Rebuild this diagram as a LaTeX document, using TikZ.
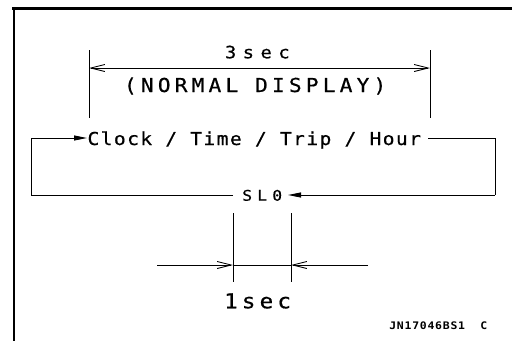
\documentclass[tikz,border=0pt]{standalone}
\usepackage{fontspec}
\setmainfont{DejaVu Sans Mono}
\newfontfamily\cadfont[FakeStretch=1.1,FakeBold=0.6]{DejaVu Sans Mono}
\newfontfamily\cadbold[FakeStretch=1.1]{DejaVu Sans Mono Bold}
\usetikzlibrary{arrows.meta}
\newlength\gapw
\newcommand\gap{\kern\gapw}
\tikzset{
  txt/.style={inner sep=0pt, outer sep=0pt, anchor=base west},
  frameline/.style={line width=2.6pt},
  thin/.style={line width=0.9pt},
  dimarrow/.style={thin, {Straight Barb[length=14pt,width=7pt,line width=0.9pt]}-{Straight Barb[length=14pt,width=7pt,line width=0.9pt]}},
  dimin/.style={thin, -{Straight Barb[length=14pt,width=7pt,line width=0.9pt]}},
  flow/.style={thin, -{Triangle[length=13pt,width=5pt]}},
}
\begin{document}
\begin{tikzpicture}[x=1pt,y=-1pt]
\useasboundingbox (0,0) rectangle (512,341);
% frame
\draw[frameline] (12,8.5) -- (512,8.5);
\draw[frameline] (14,8) -- (14,341);
% 3 sec dimension
\coordinate (e1t) at (89,50); \coordinate (e1b) at (89,118);
\coordinate (e2t) at (430,50); \coordinate (e2b) at (430,118);
\draw[thin] (e1t) -- (e1b);
\draw[thin] (e2t) -- (e2b);
\coordinate (d1) at (89,68); \coordinate (d2) at (430,68);
\draw[dimarrow] (d1) -- (d2);
\node[txt] (three) at (225,58.3) {\fontsize{17}{17}\cadfont\addfontfeature{LetterSpace=38.5}3sec};
\node[txt] (normal) at (124,92) {\fontsize{19.2}{19.2}\cadfont\addfontfeature{LetterSpace=21.9}\setlength\gapw{16.9pt}(NORMAL\gap DISPLAY)};
% loop
\node[txt] (clock) at (87.5,145) {\fontsize{17.8}{17.8}\cadfont\addfontfeature{LetterSpace=8}\setlength\gapw{13.2pt}Clock\gap/\gap Time\gap/\gap Trip\gap/\gap Hour};
\node[txt] (slo) at (242.3,200.7) {\fontsize{14.7}{14.7}\cadfont\addfontfeature{LetterSpace=36}SL0};
\coordinate (tl) at (31,138); \coordinate (bl) at (31,195);
\coordinate (tr) at (495,138); \coordinate (br) at (495,195);
\coordinate (clockin) at (87,138); \coordinate (clockout) at (428,138);
\coordinate (sloin) at (288,195); \coordinate (sloout) at (233,195);
\draw[thin] (clockout) -- (tr) -- (br);
\draw[flow] (br) -- (sloin);
\draw[thin] (sloout) -- (bl) -- (tl);
\draw[flow] (tl) -- (clockin);
% 1 sec dimension
\coordinate (f1t) at (233,213); \coordinate (f1b) at (233,282);
\coordinate (f2t) at (291,213); \coordinate (f2b) at (291,282);
\draw[thin] (f1t) -- (f1b);
\draw[thin] (f2t) -- (f2b);
\coordinate (h1) at (157,265); \coordinate (h2) at (233,265);
\coordinate (h3) at (291,265); \coordinate (h4) at (368,265);
\draw[dimin] (h1) -- (h2);
\draw[thin] (h2) -- (h3);
\draw[dimin] (h4) -- (h3);
\node[txt] (one) at (224.1,308.3) {\fontsize{20.6}{20.6}\cadfont\addfontfeature{LetterSpace=20}1sec};
\node[txt] (code) at (389.3,329.3) {\fontsize{10.4}{10.4}\cadbold\addfontfeature{LetterSpace=7.4}\setlength\gapw{7.67pt}JN17046BS1\gap\gap C};
\end{tikzpicture}
\end{document}
